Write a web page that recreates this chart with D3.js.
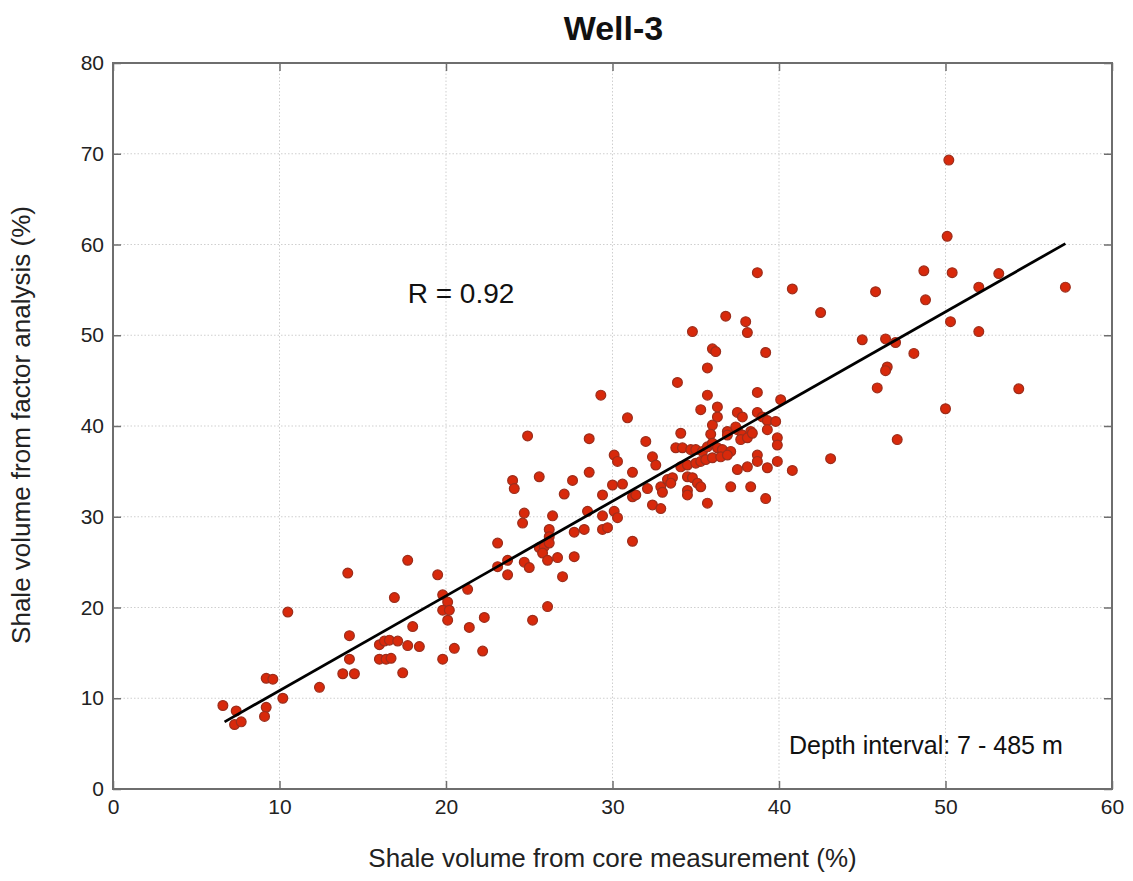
<!DOCTYPE html>
<html>
<head>
<meta charset="utf-8">
<script src="https://cdn.jsdelivr.net/npm/d3@7"></script>
<style>
  html, body { margin: 0; padding: 0; background: #fff; }
  svg { display: block; font-family: "Liberation Sans", Arial, Helvetica, sans-serif; }
</style>
</head>
<body>
<svg id="chart" width="1133" height="881"></svg>
<script>
// ---- data ----
const titleText = "Well-3";
const xLabelText = "Shale volume from core measurement (%)";
const yLabelText = "Shale volume from factor analysis (%)";
const rText = "R = 0.92";
const depthText = "Depth interval: 7 - 485 m";

const xTicks = [0, 10, 20, 30, 40, 50, 60];
const yTicks = [0, 10, 20, 30, 40, 50, 60, 70, 80];

// core measurement (%)
const coreVals = [
  6.6, 7.4, 7.3, 7.7, 9.2, 9.6, 9.2, 9.1, 10.2, 10.5,
  12.4, 13.8, 14.5, 14.2, 14.2, 14.1, 16.0, 16.3, 16.6, 17.1,
  16.0, 16.4, 16.7, 16.9, 17.4, 17.7, 17.7, 18.4, 18.0, 19.5,
  19.8, 20.1, 19.8, 20.2, 20.1, 19.8, 20.5, 21.3, 21.4, 22.2,
  22.3, 23.1, 23.7, 23.1, 23.7, 24.7, 25.0, 24.6, 24.7, 24.0,
  24.1, 24.9, 25.6, 26.4, 26.2, 26.2, 25.6, 25.9, 26.2, 25.8,
  26.1, 26.7, 27.0, 27.7, 27.7, 27.1, 27.6, 28.6, 28.5, 28.3,
  28.6, 29.3, 29.4, 29.4, 29.4, 29.7, 30.0, 30.6, 30.1, 30.3,
  30.1, 30.3, 30.9, 31.2, 31.4, 31.2, 31.2, 32.0, 32.1, 32.4,
  32.6, 32.4, 32.9, 32.9, 33.0, 33.3, 33.6, 33.5, 33.9, 34.1,
  34.8, 35.7, 35.3, 36.0, 36.2, 35.7, 36.3, 36.3, 36.0, 35.9,
  36.8, 38.0, 38.1, 39.2, 38.7, 40.8, 42.5, 38.7, 40.1, 37.5,
  37.8, 38.7, 39.0, 39.3, 39.8, 39.3, 39.9, 39.9, 36.9, 37.5,
  37.8, 38.3, 37.7, 38.1, 38.4, 33.8, 34.2, 34.7, 35.0, 35.4,
  35.7, 36.0, 36.3, 36.6, 37.1, 34.1, 34.5, 35.0, 35.3, 35.6,
  36.0, 36.5, 38.7, 38.7, 38.1, 37.5, 39.9, 39.3, 40.8, 34.5,
  34.8, 35.1, 35.3, 34.5, 34.5, 37.1, 38.3, 35.7, 39.2, 36.9,
  37.4, 36.9, 50.2, 50.1, 48.7, 50.4, 45.8, 48.8, 52.0, 53.2,
  57.2, 50.3, 52.0, 45.0, 46.4, 47.0, 48.1, 46.5, 46.4, 45.9,
  54.4, 50.0, 47.1, 43.1, 26.1, 25.2
];
// factor analysis (%)
const factorVals = [
  9.2, 8.6, 7.1, 7.4, 12.2, 12.1, 9.0, 8.0, 10.0, 19.5,
  11.2, 12.7, 12.7, 14.3, 16.9, 23.8, 15.9, 16.3, 16.4, 16.3,
  14.3, 14.3, 14.4, 21.1, 12.8, 25.2, 15.8, 15.7, 17.9, 23.6,
  21.4, 20.6, 19.7, 19.7, 18.6, 14.3, 15.5, 22.0, 17.8, 15.2,
  18.9, 27.1, 23.6, 24.5, 25.2, 25.0, 24.4, 29.3, 30.4, 34.0,
  33.1, 38.9, 34.4, 30.1, 28.6, 27.8, 26.6, 26.7, 27.1, 26.0,
  25.2, 25.5, 23.4, 25.6, 28.3, 32.5, 34.0, 34.9, 30.6, 28.6,
  38.6, 43.4, 32.4, 30.1, 28.6, 28.8, 33.5, 33.6, 36.8, 36.1,
  30.6, 29.9, 40.9, 32.2, 32.4, 34.9, 27.3, 38.3, 33.1, 36.6,
  35.7, 31.3, 30.9, 33.3, 32.7, 34.1, 34.3, 33.7, 44.8, 39.2,
  50.4, 43.4, 41.8, 48.5, 48.2, 46.4, 42.1, 41.0, 40.1, 39.1,
  52.1, 51.5, 50.3, 48.1, 56.9, 55.1, 52.5, 43.7, 42.9, 41.5,
  41.0, 41.5, 41.0, 40.6, 40.5, 39.6, 38.7, 37.9, 39.4, 39.6,
  39.0, 39.4, 38.5, 38.7, 39.2, 37.6, 37.6, 37.4, 37.4, 37.2,
  37.7, 38.1, 37.6, 37.4, 37.2, 35.5, 35.7, 35.9, 36.1, 36.3,
  36.5, 36.6, 36.8, 36.1, 35.5, 35.2, 36.1, 35.4, 35.1, 34.4,
  34.3, 33.7, 33.3, 32.9, 32.4, 33.3, 33.3, 31.5, 32.0, 36.8,
  39.9, 39.0, 69.3, 60.9, 57.1, 56.9, 54.8, 53.9, 55.3, 56.8,
  55.3, 51.5, 50.4, 49.5, 49.6, 49.2, 48.0, 46.5, 46.1, 44.2,
  44.1, 41.9, 38.5, 36.4, 20.1, 18.6
];

// regression line end points
const fitX = [6.7, 57.2];
const fitY = [7.4, 60.1];

// ---- layout ----
const W = 1133, H = 881;
const margin = { top: 63, right: 21, bottom: 92, left: 113 };
const iw = W - margin.left - margin.right;
const ih = H - margin.top - margin.bottom;

const svg = d3.select("#chart");
const g = svg.append("g").attr("transform", `translate(${margin.left},${margin.top})`);

const x = d3.scaleLinear().domain([0, 60]).range([0, iw]);
const y = d3.scaleLinear().domain([0, 80]).range([ih, 0]);

// grid (dotted)
const gridColor = "#cfcfcf";
g.append("g").selectAll("line").data(xTicks.slice(1, -1)).join("line")
  .attr("x1", d => x(d)).attr("x2", d => x(d)).attr("y1", 0).attr("y2", ih)
  .attr("stroke", gridColor).attr("stroke-width", 1).attr("stroke-dasharray", "1.5,2");
g.append("g").selectAll("line").data(yTicks.slice(1, -1)).join("line")
  .attr("y1", d => y(d)).attr("y2", d => y(d)).attr("x1", 0).attr("x2", iw)
  .attr("stroke", gridColor).attr("stroke-width", 1).attr("stroke-dasharray", "1.5,2");

// axes with inward ticks
const axisColor = "#6e6e6e";
const tickFont = 21;
function styleAxis(sel, showText) {
  sel.select(".domain").remove();
  sel.selectAll(".tick line").attr("stroke", axisColor).attr("stroke-width", 1.5);
  sel.selectAll(".tick text").attr("fill", "#222").attr("font-size", tickFont)
     .attr("font-family", "'Liberation Sans', Arial, sans-serif");
  if (!showText) sel.selectAll(".tick text").remove();
}
g.append("g").attr("transform", `translate(0,${ih})`)
  .call(d3.axisBottom(x).tickValues(xTicks).tickSize(-8).tickPadding(10).tickFormat(d3.format("d")))
  .call(s => styleAxis(s, true));
g.append("g")
  .call(d3.axisTop(x).tickValues(xTicks).tickSize(-8).tickFormat(""))
  .call(s => styleAxis(s, false));
g.append("g")
  .call(d3.axisLeft(y).tickValues(yTicks).tickSize(-8).tickPadding(9).tickFormat(d3.format("d")))
  .call(s => styleAxis(s, true));
g.append("g").attr("transform", `translate(${iw},0)`)
  .call(d3.axisRight(y).tickValues(yTicks).tickSize(-8).tickFormat(""))
  .call(s => styleAxis(s, false));

// box
g.append("rect").attr("x", 0).attr("y", 0).attr("width", iw).attr("height", ih)
  .attr("fill", "none").attr("stroke", axisColor).attr("stroke-width", 2);

// points
const pts = coreVals.map((v, i) => ({ cx: v, cy: factorVals[i] }));
g.append("g").selectAll("circle").data(pts).join("circle")
  .attr("cx", d => x(d.cx)).attr("cy", d => y(d.cy)).attr("r", 4.9)
  .attr("fill", "#d8290b").attr("stroke", "#9c2e1c").attr("stroke-width", 1.2);

// regression line
g.append("line")
  .attr("x1", x(fitX[0])).attr("y1", y(fitY[0]))
  .attr("x2", x(fitX[1])).attr("y2", y(fitY[1]))
  .attr("stroke", "#000").attr("stroke-width", 2.8);

// annotations
g.append("text").attr("x", x(17.7)).attr("y", y(53.6))
  .attr("font-size", 28).attr("fill", "#111").text(rText);
g.append("text").attr("x", x(40.6)).attr("y", y(3.9))
  .attr("font-size", 25).attr("fill", "#111").text(depthText);

// title
svg.append("text").attr("x", margin.left + iw / 2 + 1).attr("y", 40)
  .attr("text-anchor", "middle").attr("font-size", 34).attr("font-weight", "bold")
  .attr("fill", "#111").text(titleText);

// axis labels
svg.append("text").attr("x", margin.left + iw / 2).attr("y", 867)
  .attr("text-anchor", "middle").attr("font-size", 26).attr("fill", "#222").text(xLabelText);
svg.append("text")
  .attr("transform", `translate(30,${margin.top + ih / 2 - 1}) rotate(-90)`)
  .attr("text-anchor", "middle").attr("font-size", 26).attr("fill", "#222").text(yLabelText);
</script>
</body>
</html>
